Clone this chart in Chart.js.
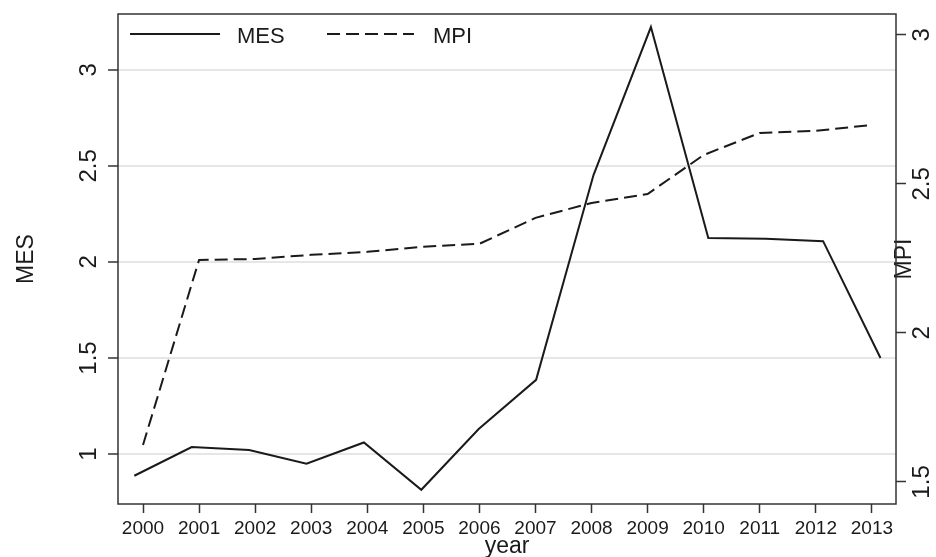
<!DOCTYPE html>
<html>
<head>
<meta charset="utf-8">
<script src="https://cdn.jsdelivr.net/npm/chart.js@4.4.0/dist/chart.umd.min.js"></script>
<style>
  html, body { margin: 0; padding: 0; background: #fff; }
</style>
</head>
<body>
<canvas id="lineChart" width="936" height="557"></canvas>
<script>
(() => {
  'use strict'

  // Data
  const years = [2000, 2001, 2002, 2003, 2004, 2005, 2006, 2007, 2008, 2009, 2010, 2011, 2012, 2013];
  const mesValues = [0.887, 1.036, 1.021, 0.95, 1.06, 0.814, 1.13, 1.386, 2.452, 3.222, 2.124, 2.12, 2.108, 1.5];
  const mpiValues = [1.624, 2.245, 2.248, 2.262, 2.272, 2.289, 2.299, 2.386, 2.436, 2.466, 2.597, 2.671, 2.678, 2.698];
  const mesTicks = [1, 1.5, 2, 2.5, 3];
  const mpiTicks = [1.5, 2, 2.5, 3];

  const ink = '#1a1a1a';
  const frame = '#333333';
  const font = '"Liberation Sans", Arial, sans-serif';

  // Rotated tick labels, axis titles, legend and frame (Stata look)
  const stataDecor = {
    id: 'stataDecor',
    afterDraw(chart) {
      const { ctx, chartArea: a, scales } = chart;
      ctx.save();
      ctx.fillStyle = ink;

      const vText = (txt, x, y, size) => {
        ctx.save();
        ctx.translate(x, y);
        ctx.rotate(-Math.PI / 2);
        ctx.font = `${size}px ${font}`;
        ctx.textAlign = 'center';
        ctx.textBaseline = 'middle';
        ctx.fillText(txt, 0, 0);
        ctx.restore();
      };

      mesTicks.forEach(v => vText(String(v), 89, scales.y.getPixelForValue(v), 24));
      mpiTicks.forEach(v => vText(String(v), 922, scales.y1.getPixelForValue(v), 24));
      vText('MES', 27, (a.top + a.bottom) / 2, 23);
      vText('MPI', 905, (a.top + a.bottom) / 2, 23);

      ctx.font = `23px ${font}`;
      ctx.textAlign = 'center';
      ctx.textBaseline = 'alphabetic';
      ctx.fillText('year', (a.left + a.right) / 2, 553);

      // legend
      ctx.strokeStyle = ink;
      ctx.lineWidth = 2;
      ctx.beginPath();
      ctx.moveTo(a.left + 12, a.top + 20);
      ctx.lineTo(a.left + 102, a.top + 20);
      ctx.stroke();
      ctx.setLineDash([13, 6]);
      ctx.beginPath();
      ctx.moveTo(a.left + 209, a.top + 20);
      ctx.lineTo(a.left + 296, a.top + 20);
      ctx.stroke();
      ctx.setLineDash([]);
      ctx.font = `22px ${font}`;
      ctx.textAlign = 'left';
      ctx.fillText('MES', a.left + 119, a.top + 29);
      ctx.fillText('MPI', a.left + 315, a.top + 29);

      // plot frame
      ctx.strokeStyle = frame;
      ctx.lineWidth = 1.5;
      ctx.strokeRect(a.left, a.top, a.right - a.left, a.bottom - a.top);
      ctx.restore();
    }
  };

  const ctx = document.getElementById('lineChart').getContext('2d');

  const config = {
    type: 'line',
    data: {
      datasets: [{
        label: 'MES',
        data: years.map((yr, i) => ({ x: yr, y: mesValues[i] })),
        xAxisID: 'xMes',
        yAxisID: 'y',
        borderColor: ink,
        borderWidth: 2,
        pointRadius: 0,
        tension: 0
      }, {
        label: 'MPI',
        data: years.map((yr, i) => ({ x: yr, y: mpiValues[i] })),
        xAxisID: 'x',
        yAxisID: 'y1',
        borderColor: ink,
        borderWidth: 2,
        borderDash: [13, 6],
        pointRadius: 0,
        tension: 0
      }]
    },
    options: {
      responsive: false,
      animation: false,
      devicePixelRatio: 1,
      layout: { padding: { top: 14, left: 0, right: 0, bottom: 0 } },
      plugins: {
        legend: { display: false },
        tooltip: { enabled: false }
      },
      scales: {
        x: {
          type: 'linear',
          position: 'bottom',
          min: 1999.554,
          max: 2013.43,
          afterBuildTicks: s => { s.ticks = years.map(v => ({ value: v })); },
          afterFit: s => { s.height = 53; },
          ticks: {
            callback: v => String(v),
            color: ink,
            padding: 4,
            font: { family: font, size: 19 }
          },
          grid: { drawOnChartArea: false, tickLength: 9, tickColor: frame, tickWidth: 1.5 },
          border: { display: false }
        },
        xMes: {
          type: 'linear',
          display: false,
          min: 1999.716,
          max: 2013.27
        },
        y: {
          position: 'left',
          min: 0.74,
          max: 3.29,
          afterBuildTicks: s => { s.ticks = mesTicks.map(v => ({ value: v })); },
          afterFit: s => { s.width = 118; },
          ticks: { display: false },
          grid: { color: '#e6e6e6', lineWidth: 2, tickLength: 10, tickColor: frame, tickWidth: 1.5 },
          border: { display: false }
        },
        y1: {
          position: 'right',
          min: 1.426,
          max: 3.07,
          afterBuildTicks: s => { s.ticks = mpiTicks.map(v => ({ value: v })); },
          afterFit: s => { s.width = 40; },
          ticks: { display: false },
          grid: { drawOnChartArea: false, tickLength: 10, tickColor: frame, tickWidth: 1.5 },
          border: { display: false }
        }
      }
    },
    plugins: [stataDecor]
  };

  new Chart(ctx, config);
})()
</script>
</body>
</html>
